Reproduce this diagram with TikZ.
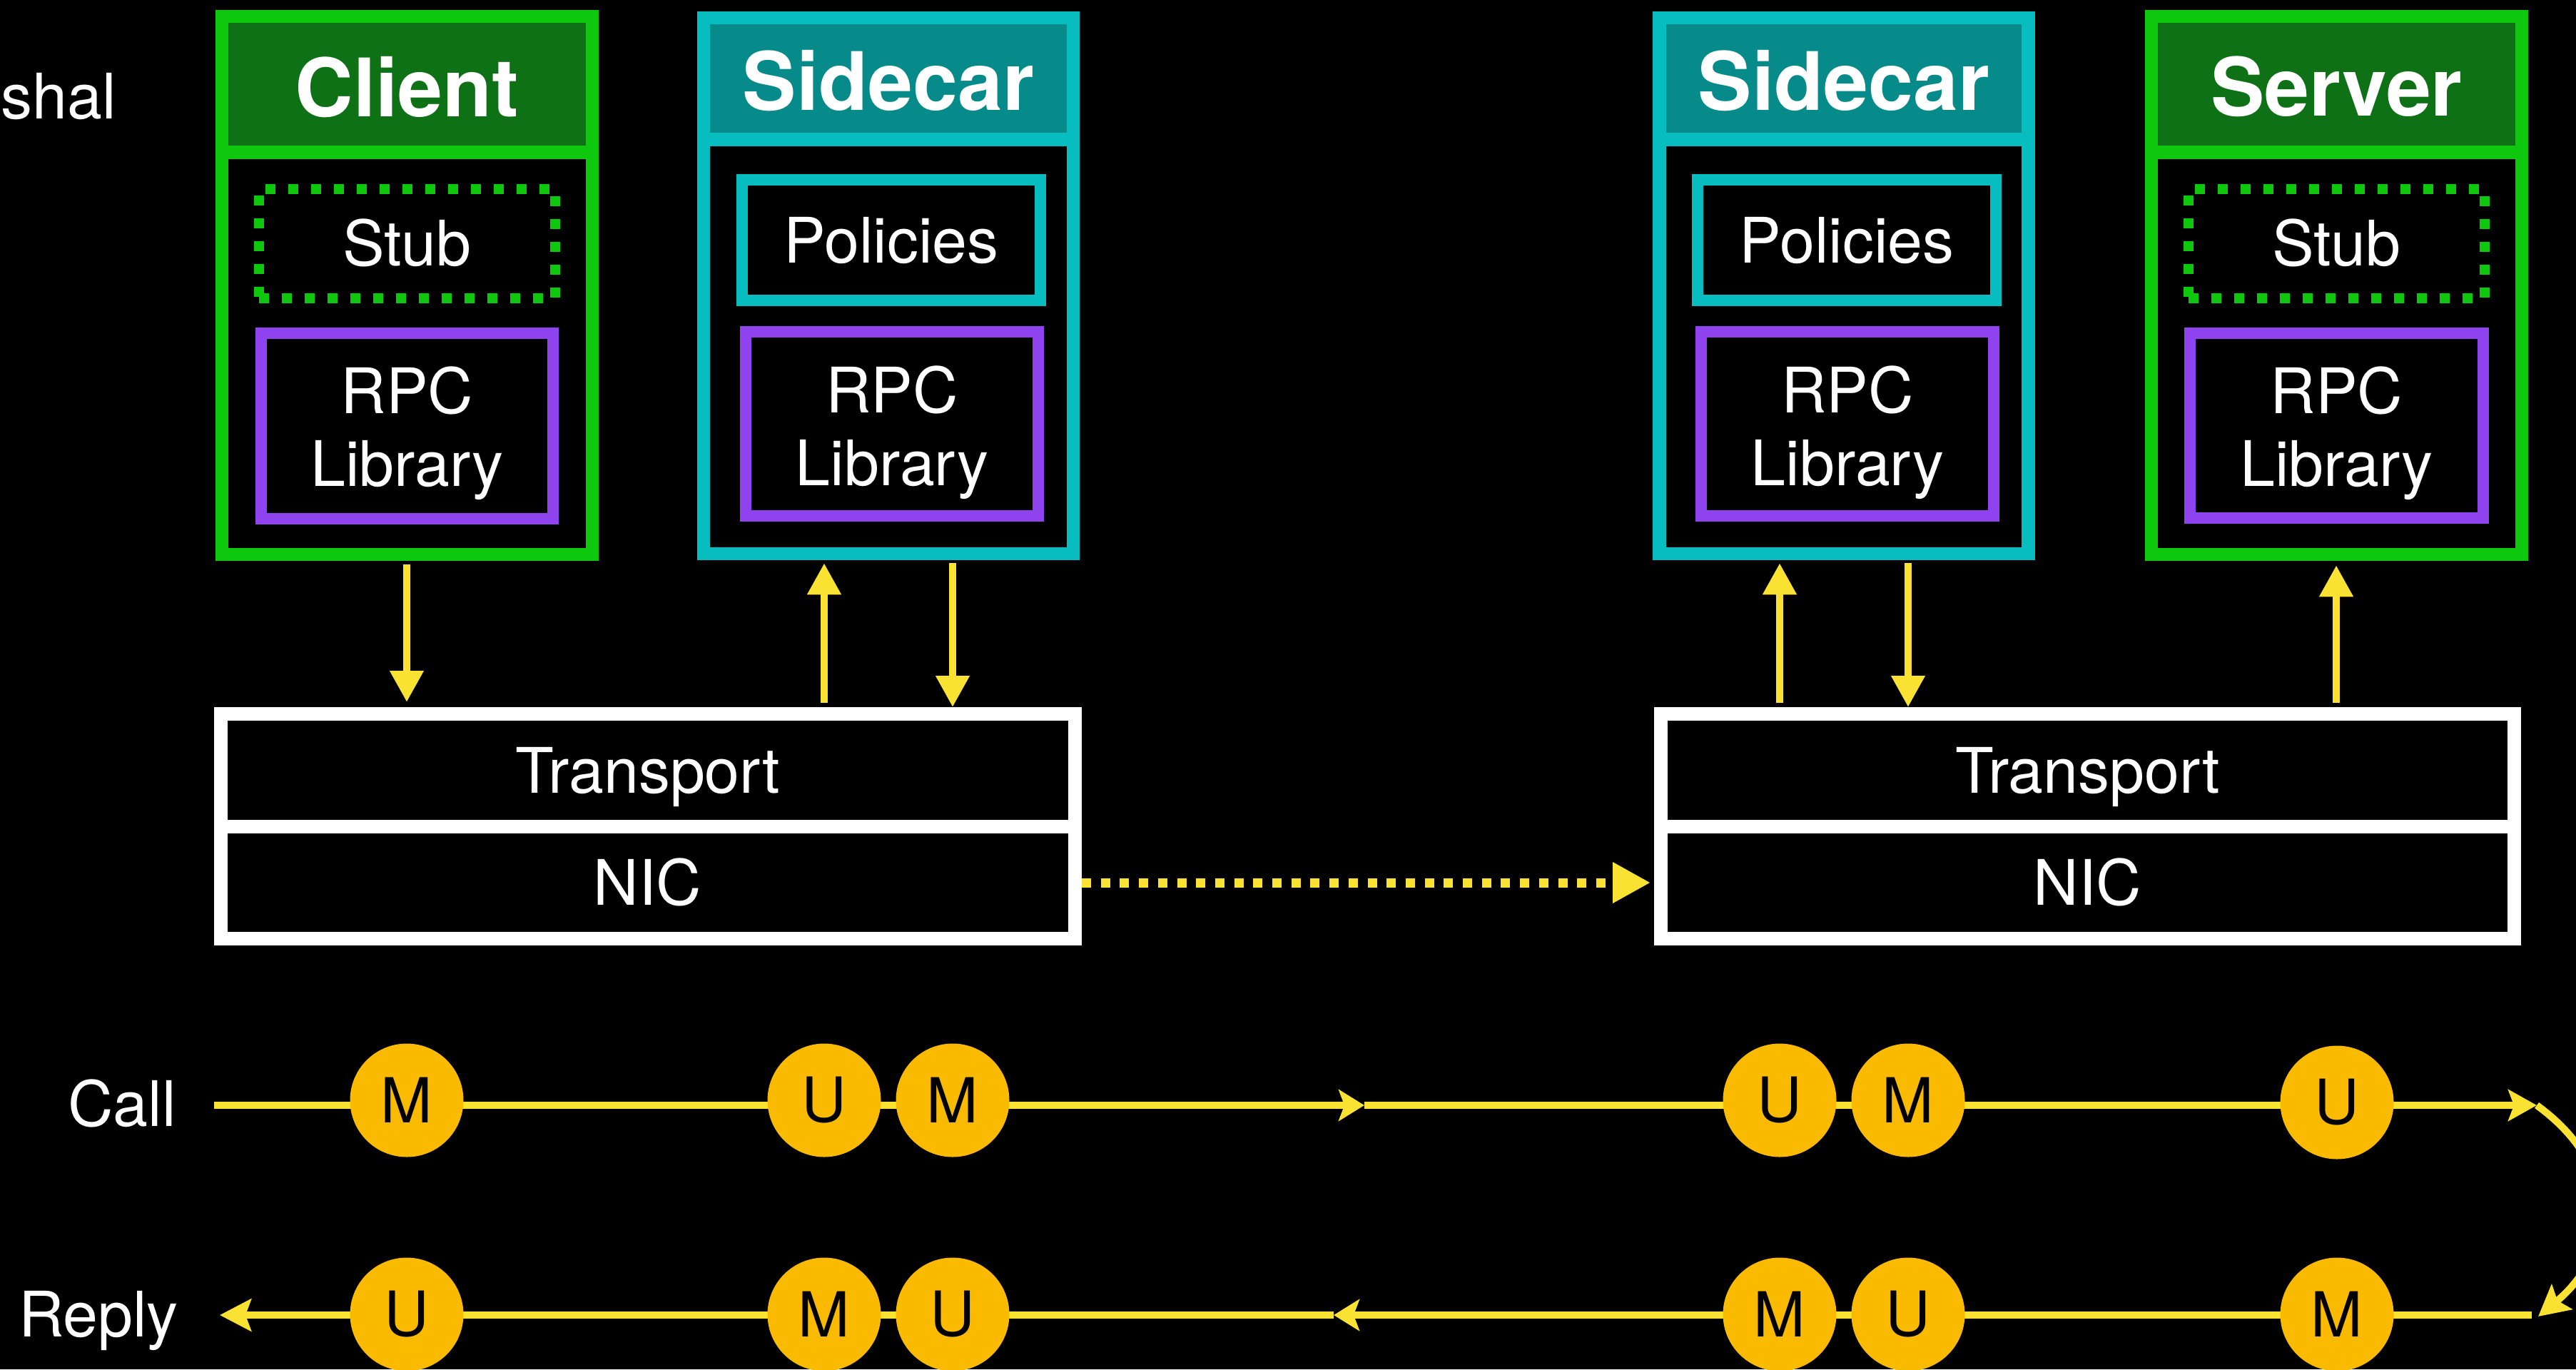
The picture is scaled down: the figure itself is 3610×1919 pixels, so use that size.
\documentclass[tikz,border=0pt]{standalone}
\usepackage{fontspec}
\setmainfont{TeX Gyre Heros}
\usetikzlibrary{arrows.meta}
\definecolor{cgreen}{HTML}{0DC80D}
\definecolor{cgreendk}{HTML}{0F7116}
\definecolor{cteal}{HTML}{07BDBF}
\definecolor{ctealdk}{HTML}{068A8A}
\definecolor{cpurple}{HTML}{8E43EE}
\definecolor{cyel}{HTML}{FAE232}
\definecolor{corange}{HTML}{F9BA00}
\begin{document}
\begin{tikzpicture}[x=1pt,y=-1pt,
  frame/.style={draw, rectangle, inner sep=0pt},
  outerbox/.style={frame, line width=18.5pt},
  innerbox/.style={frame, line width=16pt},
  stubbox/.style={frame, draw=cgreen, line width=14pt, dash pattern=on 14pt off 18pt},
  rpcbox/.style={innerbox, draw=cpurple},
  netbox/.style={frame, draw=white, line width=19pt, minimum width=1197.5pt},
  txt/.style={text=white, inner sep=0pt, font=\fontsize{88}{102}\selectfont},
  ttl/.style={text=white, inner sep=0pt, anchor=base, font=\fontsize{113}{132}\selectfont\bfseries},
  vflow/.style={draw=cyel, line width=10.5pt, -{Triangle[length=44pt,width=45pt]}},
  flow/.style={draw=cyel, line width=10pt},
  mu/.style={circle, fill=corange, inner sep=0pt, minimum size=159pt, text=black, font=\fontsize{87}{102}\selectfont}
]
\useasboundingbox (0,0) rectangle (3610,1919);
\fill[black] (0,0) rectangle (3610,1919);

% left cut-off label
\node[txt, anchor=base east] (marshal) at (163,166) {Marshal};

% Client
\node[outerbox, draw=cgreen, fill=cgreendk, minimum width=519pt, minimum height=190.5pt] (clienthdr) at (570.5,118.25) {};
\node[outerbox, draw=cgreen, minimum width=519pt, minimum height=754pt] (client) at (570.5,400) {};
\node[ttl] (clientt) at (570.5,163) {Client};
\node[stubbox, minimum width=415pt, minimum height=153pt] (cstub) at (570.5,341.5) {};
\node[txt, anchor=base] (cstubt) at (570.5,372) {Stub};
\node[rpcbox, minimum width=409pt, minimum height=260pt] (crpc) at (570.5,597) {};
\node[txt, align=center, anchor=north] (crpct) at (570.5,514) {RPC\\Library};

% Sidecar 1
\node[outerbox, draw=cteal, fill=ctealdk, minimum width=518pt, minimum height=170.5pt] (sc1hdr) at (1245,110.25) {};
\node[outerbox, draw=cteal, minimum width=518pt, minimum height=751pt] (sc1) at (1245,400.5) {};
\node[ttl] (sc1t) at (1245,154) {Sidecar};
\node[innerbox, draw=cteal, minimum width=418pt, minimum height=169pt] (sc1pol) at (1249,336.5) {};
\node[txt, anchor=base] (sc1polt) at (1249,368) {Policies};
\node[rpcbox, minimum width=410pt, minimum height=258pt] (sc1rpc) at (1250,594) {};
\node[txt, align=center, anchor=north] (sc1rpct) at (1250,513) {RPC\\Library};

% Sidecar 2
\node[outerbox, draw=cteal, fill=ctealdk, minimum width=517pt, minimum height=170.5pt] (sc2hdr) at (2584,110.25) {};
\node[outerbox, draw=cteal, minimum width=517pt, minimum height=751pt] (sc2) at (2584,400.5) {};
\node[ttl] (sc2t) at (2584,154) {Sidecar};
\node[innerbox, draw=cteal, minimum width=418pt, minimum height=169pt] (sc2pol) at (2588,336.5) {};
\node[txt, anchor=base] (sc2polt) at (2588,368) {Policies};
\node[rpcbox, minimum width=410pt, minimum height=258pt] (sc2rpc) at (2589,594) {};
\node[txt, align=center, anchor=north] (sc2rpct) at (2589,513) {RPC\\Library};

% Server
\node[outerbox, draw=cgreen, fill=cgreendk, minimum width=519pt, minimum height=190.5pt] (serverhdr) at (3274.5,118.25) {};
\node[outerbox, draw=cgreen, minimum width=519pt, minimum height=754pt] (server) at (3274.5,400) {};
\node[ttl] (servert) at (3274.5,162) {Server};
\node[stubbox, minimum width=415pt, minimum height=153pt] (sstub) at (3274.5,341.5) {};
\node[txt, anchor=base] (sstubt) at (3274.5,372) {Stub};
\node[rpcbox, minimum width=411pt, minimum height=259pt] (srpc) at (3274.5,596.5) {};
\node[txt, align=center, anchor=north] (srpct) at (3274.5,514) {RPC\\Library};

% Transport / NIC stacks
\node[netbox, minimum height=158pt] (tp1) at (907.75,1079.5) {};
\node[netbox, minimum height=157pt] (nic1) at (907.75,1237) {};
\node[txt, anchor=base] (tp1t) at (907.75,1111.5) {Transport};
\node[txt, anchor=base] (nic1t) at (907.75,1268) {NIC};
\node[netbox, minimum height=158pt, minimum width=1196pt] (tp2) at (2925.5,1079.5) {};
\node[netbox, minimum height=157pt, minimum width=1196pt] (nic2) at (2925.5,1237) {};
\node[txt, anchor=base] (tp2t) at (2925.5,1111.5) {Transport};
\node[txt, anchor=base] (nic2t) at (2925.5,1268) {NIC};

% vertical arrows
\coordinate (xc) at (570,0);
\coordinate (x1u) at (1155,0);
\coordinate (x1d) at (1335,0);
\coordinate (x2u) at (2494,0);
\coordinate (x2d) at (2674,0);
\coordinate (xs) at (3274,0);
\draw[vflow, shorten <=5pt, shorten >=7pt] (xc |- client.south) -- (xc |- tp1.north);
\draw[vflow, shorten <=6pt, shorten >=4pt] (x1u |- tp1.north) -- (x1u |- sc1.south);
\draw[vflow, shorten <=4pt] (x1d |- sc1.south) -- (x1d |- tp1.north);
\draw[vflow, shorten <=6pt, shorten >=4pt] (x2u |- tp2.north) -- (x2u |- sc2.south);
\draw[vflow, shorten <=4pt] (x2d |- sc2.south) -- (x2d |- tp2.north);
\draw[vflow, shorten <=6pt, shorten >=6pt] (xs |- tp2.north) -- (xs |- server.south);

% network link
\draw[draw=cyel, line width=13pt, dash pattern=on 13pt off 13.7pt, -{Triangle[length=53pt,width=54pt]}, shorten >=5pt] (nic1.east) -- (nic2.west);

% call / reply lines
\coordinate (cs) at (300,1549);
\coordinate (cm) at (1912,1549);
\coordinate (ce) at (3555,1549);
\coordinate (re) at (3548,1843);
\coordinate (rm) at (1869,1843);
\coordinate (rs) at (308,1843);
\coordinate (rc) at (3557,1845);
\draw[flow, -{Stealth[length=36pt,width=44pt,inset=8pt]}] (cs) -- (cm);
\draw[flow, -{Stealth[length=40pt,width=44pt,inset=8pt]}] (cm) -- (ce);
\draw[flow, -{Stealth[length=43pt,width=45pt,inset=8pt]}] (ce) .. controls (3680,1640) and (3660,1760) .. (rc);
\draw[flow, -{Stealth[length=36pt,width=44pt,inset=8pt]}] (re) -- (rm);
\draw[flow, -{Stealth[length=44pt,width=45pt,inset=8pt]}] (rm) -- (rs);

\node[txt, anchor=base east] (call) at (247,1578) {Call};
\node[txt, anchor=base east] (reply) at (250,1873) {Reply};

% marshal / unmarshal steps
\node[mu] (c1) at (570,1542) {M};
\node[mu] (c2) at (1155,1542) {U};
\node[mu] (c3) at (1335,1542) {M};
\node[mu] (c4) at (2494,1542) {U};
\node[mu] (c5) at (2674,1542) {M};
\node[mu] (c6) at (3275,1545) {U};
\node[mu] (r1) at (570,1842) {U};
\node[mu] (r2) at (1155,1842) {M};
\node[mu] (r3) at (1335,1842) {U};
\node[mu] (r4) at (2494,1842) {M};
\node[mu] (r5) at (2674,1842) {U};
\node[mu] (r6) at (3275,1842) {M};
\end{tikzpicture}
\end{document}
